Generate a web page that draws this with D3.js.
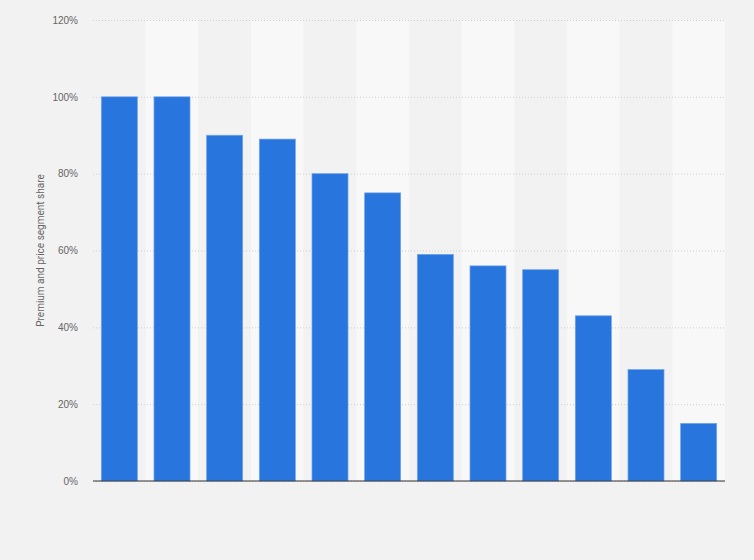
<!DOCTYPE html>
<html>
<head>
<meta charset="utf-8">
<script src="https://cdn.jsdelivr.net/npm/d3@7"></script>
<style>
  html, body { margin: 0; padding: 0; background: #f2f2f2; }
  svg { display: block; font-family: Roboto, "Open Sans", Arial, sans-serif; }
</style>
</head>
<body>
<div id="chart"></div>
<script>
const width = 754;
const height = 560;

// one bar per (unlabelled) category, left to right
const categories = ["1", "2", "3", "4", "5", "6", "7", "8", "9", "10", "11", "12"];
const shares = [100, 100, 90, 89, 80, 75, 59, 56, 55, 43, 29, 15];
const yTicks = [0, 20, 40, 60, 80, 100, 120];

const margin = {top: 20, right: 29, bottom: 79, left: 93};

const svg = d3.select('#chart').append('svg')
  .attr('width', width)
  .attr('height', height);

svg.append('rect')
  .attr('width', width)
  .attr('height', height)
  .attr('fill', '#f2f2f2');

const x = d3.scaleBand()
  .domain(categories)
  .range([margin.left, width - margin.right])
  .paddingInner(0.316)
  .paddingOuter(0.158);

const y = d3.scaleLinear()
  .domain([0, 120])
  .range([height - margin.bottom, margin.top]);

// alternating column shading
const step = x.step();
svg.append('g').selectAll('rect')
  .data(categories)
  .join('rect')
  .attr('x', d => x(d) - x.paddingOuter() * step)
  .attr('y', y(120))
  .attr('width', step)
  .attr('height', y(0) - y(120))
  .attr('fill', (d, i) => i % 2 ? '#f8f8f8' : '#f2f2f2');

// gridlines + tick labels
const yAxis = d3.axisLeft(y)
  .tickValues(yTicks)
  .tickFormat(d => d + '%')
  .tickSize(-(width - margin.left - margin.right))
  .tickPadding(15);

const gy = svg.append('g')
  .attr('transform', `translate(${margin.left},0)`)
  .call(yAxis);
gy.select('.domain').remove();
gy.selectAll('.tick line')
  .attr('stroke', '#cfcfcf')
  .attr('stroke-dasharray', '1,2');
gy.selectAll('.tick text')
  .attr('fill', '#666')
  .attr('font-size', 10);

// bars
svg.append('g').selectAll('rect')
  .data(shares)
  .join('rect')
  .attr('x', (d, i) => x(categories[i]))
  .attr('y', d => y(d))
  .attr('width', x.bandwidth())
  .attr('height', d => y(0) - y(d))
  .attr('fill', '#2876dd')
  .attr('stroke', '#6fa3eb')
  .attr('stroke-width', 0.7);

// baseline
svg.append('line')
  .attr('x1', margin.left)
  .attr('x2', width - margin.right)
  .attr('y1', y(0))
  .attr('y2', y(0))
  .attr('stroke', '#333')
  .attr('stroke-width', 1.2);

// y label
svg.append('text')
  .attr('transform', `translate(44,${(y(0) + y(120)) / 2}) rotate(-90)`)
  .attr('text-anchor', 'middle')
  .attr('fill', '#666')
  .attr('font-size', 10)
  .text('Premium and price segment share');
</script>
</body>
</html>
